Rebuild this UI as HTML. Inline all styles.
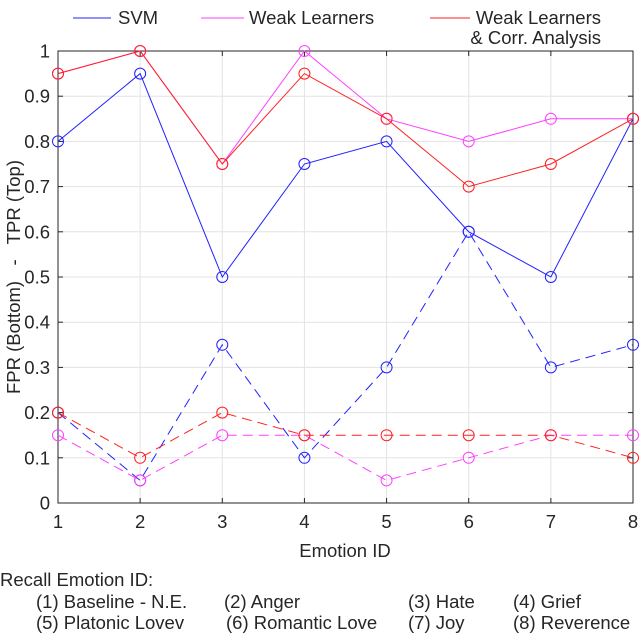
<!DOCTYPE html>
<html><head><meta charset="utf-8"><style>
body{margin:0;background:#fff;width:640px;height:634px;overflow:hidden;font-family:"Liberation Sans",sans-serif;}
svg text{font-family:"Liberation Sans",sans-serif;fill:#262626;}
</style></head><body>
<svg id="chart" width="640" height="634" viewBox="0 0 640 634" xmlns="http://www.w3.org/2000/svg">
<g id="grid"></g>
<g id="axes"></g>
<g id="series"></g>
<g id="legend">
 <line x1="73" y1="18" x2="111" y2="18" stroke="#2020ff" stroke-width="1"/>
 <text x="118" y="24" font-size="18.5">SVM</text>
 <line x1="201" y1="18" x2="244" y2="18" stroke="#ff40ff" stroke-width="1"/>
 <text x="249" y="24" font-size="18.5">Weak Learners</text>
 <line x1="430" y1="18" x2="470" y2="18" stroke="#ff2020" stroke-width="1"/>
 <text x="601" y="24" font-size="18.5" text-anchor="end">Weak Learners</text>
 <text x="601" y="44" font-size="18.5" text-anchor="end">&amp; Corr. Analysis</text>
</g>
<text x="345" y="557" font-size="18.5" text-anchor="middle">Emotion ID</text>
<text transform="translate(20,277) rotate(-90)" font-size="18.5" text-anchor="middle" xml:space="preserve">FPR (Bottom)   -   TPR (Top)</text>
<g font-size="18.5">
 <text x="0" y="586">Recall Emotion ID:</text>
 <text x="36" y="608">(1) Baseline - N.E.</text>
 <text x="224" y="608">(2) Anger</text>
 <text x="408" y="608">(3) Hate</text>
 <text x="513" y="608">(4) Grief</text>
 <text x="36" y="629">(5) Platonic Lovev</text>
 <text x="226" y="629">(6) Romantic Love</text>
 <text x="408" y="629">(7) Joy</text>
 <text x="513" y="629">(8) Reverence</text>
</g>
</svg>
<script>
const categories=[1,2,3,4,5,6,7,8];
const yTicks=[0,0.1,0.2,0.3,0.4,0.5,0.6,0.7,0.8,0.9,1];
const yTickLabels=["0","0.1","0.2","0.3","0.4","0.5","0.6","0.7","0.8","0.9","1"];
const svmTop=[0.8,0.95,0.5,0.75,0.8,0.6,0.5,0.85];
const wlTop=[0.95,1,0.75,1,0.85,0.8,0.85,0.85];
const wlcTop=[0.95,1,0.75,0.95,0.85,0.7,0.75,0.85];
const svmBottom=[0.2,0.05,0.35,0.1,0.3,0.6,0.3,0.35];
const wlBottom=[0.15,0.05,0.15,0.15,0.05,0.1,0.15,0.15];
const wlcBottom=[0.2,0.1,0.2,0.15,0.15,0.15,0.15,0.1];

const L=58,R=633,T=51,B=503;
const xs=v=>L+(v-1)/7*(R-L);
const ys=v=>B-v*(B-T);
const NS="http://www.w3.org/2000/svg";
function mk(tag,attrs,parent){const e=document.createElementNS(NS,tag);for(const k in attrs)e.setAttribute(k,attrs[k]);parent.appendChild(e);return e;}
const grid=document.getElementById('grid'),axes=document.getElementById('axes'),series=document.getElementById('series');
categories.forEach(c=>{
  const g=mk('line',{x1:xs(c),x2:xs(c),y1:T,y2:B,stroke:'#e3e3e3'},grid);
  
  
  mk('line',{x1:xs(c),x2:xs(c),y1:B,y2:B-5,stroke:'#262626'},axes);
  mk('line',{x1:xs(c),x2:xs(c),y1:T,y2:T+5,stroke:'#262626'},axes);
  const t=mk('text',{x:xs(c),y:B+25,'font-size':18.5,'text-anchor':'middle'},axes);
  t.textContent=String(c);
  
  
});
yTicks.forEach((v,i)=>{
  const g=mk('line',{x1:L,x2:R,y1:ys(v),y2:ys(v),stroke:'#e3e3e3'},grid);
  
  
  mk('line',{x1:L,x2:L+5,y1:ys(v),y2:ys(v),stroke:'#262626'},axes);
  mk('line',{x1:R,x2:R-5,y1:ys(v),y2:ys(v),stroke:'#262626'},axes);
  const t=mk('text',{x:L-8,y:ys(v)+6.5,'font-size':18.5,'text-anchor':'end'},axes);
  t.textContent=yTickLabels[i];
  
  
});
const box=mk('rect',{x:L,y:T,width:R-L,height:B-T,fill:'none',stroke:'#262626','stroke-width':1},axes);


function draw(vals,color,dash,name){
  const pts=vals.map((v,i)=>xs(categories[i])+','+ys(v)).join(' ');
  const pl=mk('polyline',{points:pts,fill:'none',stroke:color,'stroke-width':1,'stroke-dasharray':dash||'none'},series);
  
  
  vals.forEach((v,i)=>{
    const c=mk('circle',{cx:xs(categories[i]),cy:ys(v),r:5.5,fill:'none',stroke:color,'stroke-width':1},series);
    
    
  });
}
draw(svmBottom,'#2020ff','10,6','svm-fpr');
draw(wlBottom,'#ff40ff','10,6','weak-learners-fpr');
draw(wlcBottom,'#ff2020','10,6','weak-learners-corr-fpr');
draw(svmTop,'#2020ff','','svm-tpr');
draw(wlTop,'#ff40ff','','weak-learners-tpr');
draw(wlcTop,'#ff2020','','weak-learners-corr-tpr');
</script>
</body></html>
